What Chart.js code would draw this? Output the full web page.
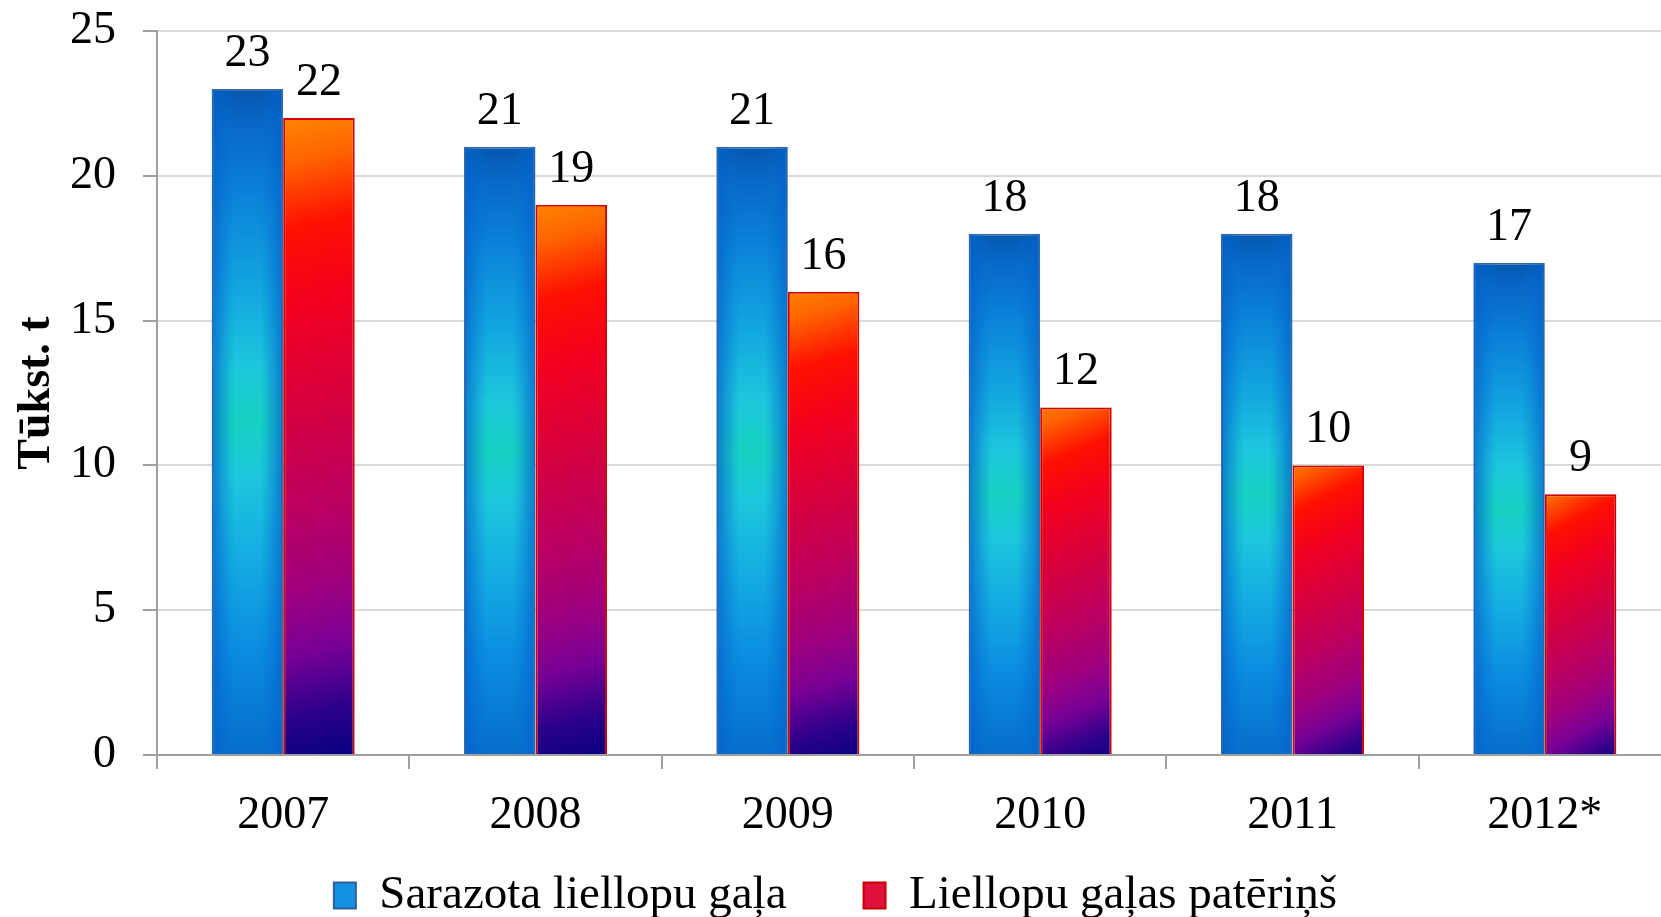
<!DOCTYPE html>
<html>
<head>
<meta charset="utf-8">
<script src="https://cdn.jsdelivr.net/npm/chart.js@4.4.1/dist/chart.umd.min.js"></script>
<style>
html,body{margin:0;padding:0;background:#fff;overflow:hidden;}
#wrap{width:1671px;height:917px;}
</style>
</head>
<body>
<div id="wrap"><canvas id="c" width="1671" height="917"></canvas></div>
<script>
const years = ['2007', '2008', '2009', '2010', '2011', '2012*'];
const produced = [23, 21, 21, 18, 18, 17];
const consumed = [22, 19, 16, 12, 10, 9];
const seriesNames = ['Sarazota liellopu gaļa', 'Liellopu gaļas patēriņš'];
const yTicks = [0, 5, 10, 15, 20, 25];
const yTitle = 'Tūkst. t';

const FONT = '"Liberation Serif", "Times New Roman", serif';
const CAT_PCT = 0.567;

function barBox(ctx, dsIndex) {
  const chart = ctx.chart;
  const xs = chart.scales.x, ys = chart.scales.y;
  const cx = xs.getPixelForValue(ctx.dataIndex);
  const bw = (xs.width / years.length) * CAT_PCT / 2;
  const left = dsIndex === 0 ? cx - bw : cx;
  return {left, right: left + bw, top: ys.getPixelForValue(ctx.raw), base: ys.getPixelForValue(0), bw};
}

function blueFill(ctx) {
  if (!ctx.chart.chartArea || ctx.type !== 'data') return '#0a8ade';
  const b = barBox(ctx, 0);
  const g = ctx.chart.ctx.createLinearGradient(0, b.top, 0, b.base);
  g.addColorStop(0, '#0457b0');
  g.addColorStop(0.05, '#0867c6');
  g.addColorStop(0.15, '#0a80d8');
  g.addColorStop(0.3, '#12a6e0');
  g.addColorStop(0.42, '#1cc8dc');
  g.addColorStop(0.5, '#16d2c2');
  g.addColorStop(0.58, '#1cc8dc');
  g.addColorStop(0.7, '#14ade2');
  g.addColorStop(0.85, '#0a8ae0');
  g.addColorStop(1, '#066ecb');
  return g;
}

function redFill(ctx) {
  if (!ctx.chart.chartArea || ctx.type !== 'data') return '#e0103a';
  const b = barBox(ctx, 1);
  const g = ctx.chart.ctx.createLinearGradient(b.left - b.bw / 2, b.top, b.right + b.bw / 2, b.base);
  g.addColorStop(0, '#ff8c00');
  g.addColorStop(0.08, '#ff6400');
  g.addColorStop(0.18, '#ff1000');
  g.addColorStop(0.3, '#f20020');
  g.addColorStop(0.45, '#d6003e');
  g.addColorStop(0.6, '#bc0060');
  g.addColorStop(0.72, '#a0007e');
  g.addColorStop(0.82, '#780096');
  g.addColorStop(0.91, '#2c008a');
  g.addColorStop(1, '#000080');
  return g;
}

const overlayAndLabels = {
  id: 'overlayAndLabels',
  afterDatasetsDraw(chart) {
    const c = chart.ctx;
    const m0 = chart.getDatasetMeta(0);
    m0.data.forEach(bar => {
      const p = bar.getProps(['x', 'y', 'base', 'width'], true);
      const l = p.x - p.width / 2, r = p.x + p.width / 2;
      const g = c.createLinearGradient(l, 0, r, 0);
      g.addColorStop(0, 'rgba(4,96,200,0.75)');
      g.addColorStop(0.32, 'rgba(4,110,210,0)');
      g.addColorStop(0.68, 'rgba(4,110,210,0)');
      g.addColorStop(1, 'rgba(4,96,200,0.75)');
      c.save();
      c.fillStyle = g;
      c.fillRect(l + 1, p.y + 1, p.width - 2, p.base - p.y - 1);
      c.restore();
    });
    c.save();
    c.font = '46px ' + FONT;
    c.fillStyle = '#000';
    c.textAlign = 'center';
    c.textBaseline = 'alphabetic';
    chart.data.datasets.forEach((ds, di) => {
      chart.getDatasetMeta(di).data.forEach((bar, i) => {
        const p = bar.getProps(['x', 'y'], true);
        c.fillText(String(ds.data[i]), p.x, p.y - 23);
      });
    });
    c.restore();
  }
};

new Chart(document.getElementById('c'), {
  type: 'bar',
  data: {
    labels: years,
    datasets: [
      {label: seriesNames[0], data: produced, backgroundColor: blueFill, borderColor: '#3b6ca8', borderWidth: 2, borderSkipped: 'start'},
      {label: seriesNames[1], data: consumed, backgroundColor: redFill, borderColor: '#d40000', borderWidth: 2, borderSkipped: 'start'}
    ]
  },
  options: {
    responsive: false,
    animation: false,
    devicePixelRatio: 1,
    layout: {padding: {top: 31, left: 0, right: 0, bottom: 0}},
    datasets: {bar: {categoryPercentage: CAT_PCT, barPercentage: 1}},
    plugins: {
      legend: {
        position: 'bottom',
        maxHeight: 122,
        labels: {
          font: {family: FONT, size: 47},
          color: '#000',
          boxWidth: 22,
          boxHeight: 26,
          padding: 77,
          generateLabels: () => [
            {text: seriesNames[0], fillStyle: '#1490e0', strokeStyle: '#2f5f9f', lineWidth: 2, datasetIndex: 0},
            {text: seriesNames[1], fillStyle: '#e0103c', strokeStyle: '#c80000', lineWidth: 2, datasetIndex: 1}
          ]
        }
      },
      tooltip: {enabled: false}
    },
    scales: {
      x: {
        offset: true,
        afterFit: s => { s.height = 40; },
        grid: {drawOnChartArea: false, drawTicks: true, tickLength: 14, color: '#a0a0a0', lineWidth: 2, offset: true},
        border: {color: '#a0a0a0', width: 2},
        ticks: {font: {family: FONT, size: 46}, color: '#000', mirror: true, padding: -89}
      },
      y: {
        min: 0, max: 25,
        afterFit: s => { s.width = 157; },
        afterBuildTicks: s => { s.ticks = yTicks.map(v => ({value: v})); },
        grid: {color: '#d9d9d9', lineWidth: 2, tickColor: '#a0a0a0', tickLength: 14},
        border: {color: '#a0a0a0', width: 2},
        ticks: {font: {family: FONT, size: 46, lineHeight: 0.1}, color: '#000', padding: 27},
        title: {display: true, text: yTitle, font: {family: FONT, size: 46, weight: 'bold'}, color: '#000', padding: {top: 10, bottom: 0}}
      }
    }
  },
  plugins: [overlayAndLabels]
});
</script>
</body>
</html>
